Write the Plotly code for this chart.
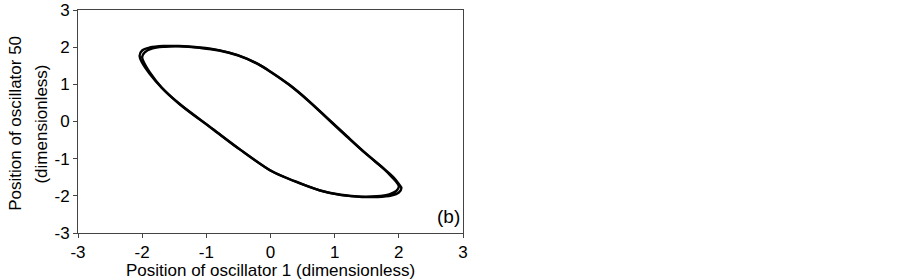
import plotly.graph_objects as go

# Loop A, clockwise from the left tip
loop_a_x = [-2.00, -1.96, -1.85, -1.65, -1.42, -1.10, -0.80, -0.50, -0.20, 0.00, 0.30, 0.60, 0.90,
            1.20, 1.50, 1.75, 1.90, 1.98, 2.00, 1.96, 1.85, 1.65, 1.42, 1.10, 0.76, 0.40, 0.20, 0.00,
            -0.48, -0.92, -1.42, -1.70, -1.88, -1.97, -2.00]
loop_a_y = [1.74, 1.86, 1.96, 2.01, 2.02, 1.98, 1.91, 1.77, 1.55, 1.34, 0.98, 0.55, 0.07,
            -0.41, -0.88, -1.25, -1.51, -1.67, -1.76, -1.87, -1.96, -2.01, -2.02, -1.97, -1.85, -1.62,
            -1.48, -1.32, -0.75, -0.18, 0.47, 0.92, 1.32, 1.58, 1.74]
# Loop B (slightly outer trajectory)
loop_b_x = [-2.04, -2.00, -1.88, -1.67, -1.43, -1.10, -0.81, -0.52, -0.22, -0.02, 0.28, 0.58, 0.88,
            1.18, 1.48, 1.74, 1.91, 2.00, 2.04, 2.00, 1.88, 1.67, 1.43, 1.10, 0.78, 0.42, 0.22, 0.02,
            -0.46, -0.90, -1.40, -1.69, -1.89, -2.00, -2.04]
loop_b_y = [1.77, 1.91, 1.99, 2.03, 2.03, 1.99, 1.92, 1.79, 1.57, 1.36, 1.00, 0.57, 0.09,
            -0.39, -0.86, -1.23, -1.49, -1.68, -1.79, -1.91, -1.99, -2.03, -2.03, -1.98, -1.86, -1.64,
            -1.50, -1.34, -0.77, -0.20, 0.45, 0.90, 1.30, 1.58, 1.77]

tick_vals = [-3, -2, -1, 0, 1, 2, 3]
tick_text = ["-3", "-2", "-1", "0", "1", "2", "3"]

x_title = "Position of oscillator 1 (dimensionless)"
y_title_1 = "Position of oscillator 50"
y_title_2 = "(dimensionless)"
panel_label = "(b)"

FONT = "Liberation Sans, Arial, sans-serif"

fig = go.Figure()
for lx, ly in [(loop_a_x, loop_a_y), (loop_b_x, loop_b_y)]:
    fig.add_trace(go.Scatter(x=lx, y=ly, mode="lines",
                             line=dict(color="black", width=2.4, shape="spline", smoothing=1.0),
                             showlegend=False, hoverinfo="skip"))

axis_common = dict(
    range=[-3, 3], tickvals=tick_vals, ticktext=tick_text,
    showgrid=False, zeroline=False, showline=True, linecolor="#444444", linewidth=1,
    mirror=True, ticks="outside", ticklen=4, tickcolor="#444444", automargin=False,
    tickfont=dict(family=FONT, size=17, color="black"),
)

fig.update_layout(
    width=902, height=280,
    margin=dict(l=78, r=439, t=10, b=47),
    paper_bgcolor="white", plot_bgcolor="white",
    xaxis=dict(**axis_common,
               title=dict(text=x_title, font=dict(family=FONT, size=17, color="black"), standoff=2)),
    yaxis=dict(**axis_common),
    annotations=[
        dict(text=y_title_1, xref="paper", yref="paper", x=-0.161, y=0.49, xanchor="center",
             yanchor="middle", textangle=-90, showarrow=False,
             font=dict(family=FONT, size=17, color="black")),
        dict(text=y_title_2, xref="paper", yref="paper", x=-0.094, y=0.49, xanchor="center",
             yanchor="middle", textangle=-90, showarrow=False,
             font=dict(family=FONT, size=17, color="black")),
        dict(text=panel_label, xref="paper", yref="paper", x=0.997, y=0.02, xanchor="right",
             yanchor="bottom", showarrow=False,
             font=dict(family=FONT, size=19, color="black")),
    ],
)

# Remove the default page margin so the figure sits at the window's top-left corner
fig.write_html("out.html", config={"displayModeBar": False},
               post_script="document.body.style.margin='0';document.body.style.overflow='hidden';")
